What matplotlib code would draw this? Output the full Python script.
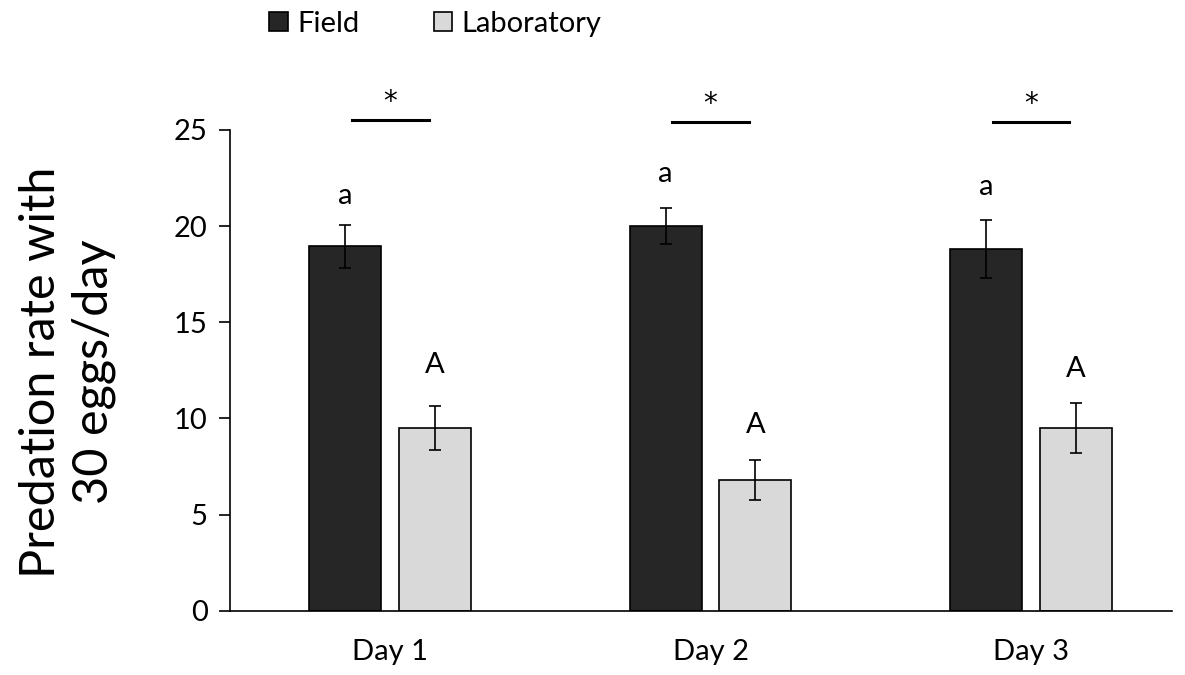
import numpy as np
import matplotlib
matplotlib.use('Agg')
import matplotlib.pyplot as plt
from matplotlib.patches import Patch

plt.rcParams['font.family'] = ['Lato', 'DejaVu Sans']

days = ['Day 1', 'Day 2', 'Day 3']
field = [18.95, 20.0, 18.8]
field_err = [1.13, 0.92, 1.5]
lab = [9.5, 6.8, 9.5]
lab_err = [1.14, 1.04, 1.3]
field_letters = ['a', 'a', 'a']
lab_letters = ['A', 'A', 'A']
field_letter_y = [21.15, 22.3, 21.6]
lab_letter_y = [12.35, 9.25, 12.15]
sig_marks = ['*', '*', '*']
sig_y = [25.5, 25.4, 25.4]

field_color = '#262626'
lab_color = '#d9d9d9'

fig = plt.figure(figsize=(11.85, 6.75), dpi=100)
ax = fig.add_axes([0.194, 0.095, 0.795, 0.7126])

x = np.arange(len(days))
w = 0.225
off = 0.14
err_kw = dict(ecolor='black', elinewidth=1.2, capsize=4.5, capthick=1.2)
ax.bar(x - off, field, w, yerr=field_err, color=field_color, edgecolor='black',
       linewidth=1.2, error_kw=err_kw, label='Field')
ax.bar(x + off, lab, w, yerr=lab_err, color=lab_color, edgecolor='black',
       linewidth=1.2, error_kw=err_kw, label='Laboratory')

for i in range(len(days)):
    ax.text(x[i] - off, field_letter_y[i], field_letters[i], ha='center', va='baseline', fontsize=21)
    ax.text(x[i] + off, lab_letter_y[i], lab_letters[i], ha='center', va='baseline', fontsize=21)
    ax.plot([x[i] - 0.12, x[i] + 0.12], [sig_y[i], sig_y[i]], color='black', lw=2.2, clip_on=False)
    ax.text(x[i], sig_y[i] + 0.55, sig_marks[i], ha='center', va='baseline', fontsize=20,
            family='DejaVu Sans')

ax.set_ylim(0, 25)
ax.set_xlim(-0.5, 2.44)
ax.set_yticks([0, 5, 10, 15, 20, 25])
ax.set_xticks(x)
ax.set_xticklabels(days)
ax.tick_params(axis='y', direction='out', length=8, width=1.2, labelsize=21, pad=8)
ax.tick_params(axis='x', length=0, labelsize=21, pad=20)
ax.spines['top'].set_visible(False)
ax.spines['right'].set_visible(False)
ax.spines['left'].set_linewidth(1.2)
ax.spines['bottom'].set_linewidth(1.2)

fig.text(0.057, 1 - 372 / 675, 'Predation rate with\n30 eggs/day', rotation=90,
         ha='center', va='center', fontsize=35, multialignment='center', linespacing=1.25)

handles = [Patch(facecolor=field_color, edgecolor='black', linewidth=1.2),
           Patch(facecolor=lab_color, edgecolor='black', linewidth=1.2)]
fig.legend(handles, ['Field', 'Laboratory'], loc='center left', bbox_to_anchor=(0.205, 0.965),
           ncol=2, frameon=False, fontsize=21, handlelength=0.65, handleheight=0.65,
           handletextpad=0.3, columnspacing=2.55)

fig.savefig('out.png', dpi=100)
